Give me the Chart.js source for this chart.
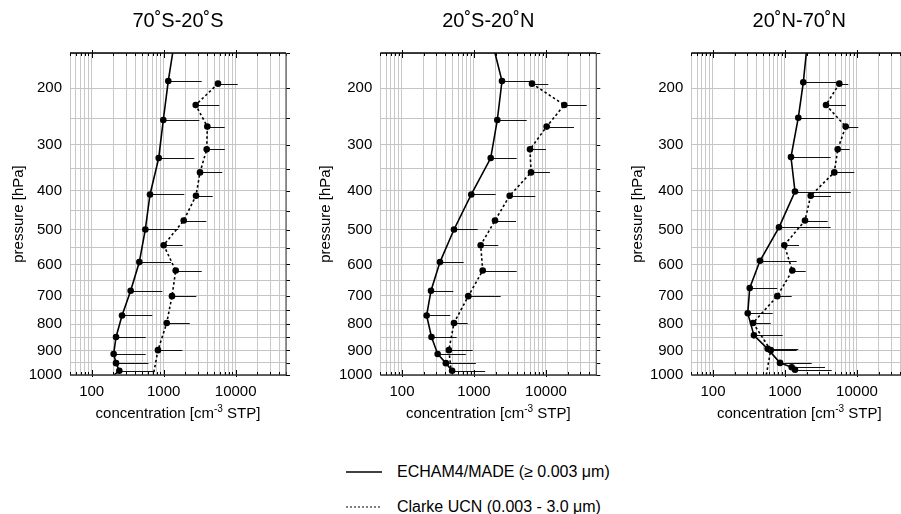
<!DOCTYPE html>
<html><head><meta charset="utf-8">
<script src="https://cdn.jsdelivr.net/npm/chart.js@4.4.1/dist/chart.umd.min.js"></script>
<style>
html,body{margin:0;padding:0;background:#fff;overflow:hidden;width:901px;height:514px;}
body{position:relative;font-family:"Liberation Sans",Arial,Helvetica,sans-serif;color:#000;}
canvas{position:absolute;top:0;}
.t{position:absolute;white-space:nowrap;transform:translate(-50%,-50%);}
.title{font-size:20px;top:20px;}
.xt{font-size:15px;top:412px;}
.xt sup{font-size:10px;vertical-align:0;position:relative;top:-6px;}
.leg{position:absolute;font-size:16px;white-space:nowrap;transform:translateY(-50%);}
svg{position:absolute;overflow:visible;}
</style></head><body>
<canvas id="c0" width="300" height="440" style="left:0px"></canvas>
<canvas id="c1" width="305" height="440" style="left:300px"></canvas>
<canvas id="c2" width="325" height="440" style="left:600px"></canvas>
<div id="overlay"></div>
<script>
// ---------------- data ----------------
const regions = ['70˚S-20˚S', '20˚S-20˚N', '20˚N-70˚N'];
const xTickLabels = [100, 1000, 10000];
const yTickLabels = [200, 300, 400, 500, 600, 700, 800, 900, 1000];
const xGridValues = [50, 60, 70, 80, 90, 100, 200, 300, 400, 500, 600, 700, 800, 900,
  1000, 2000, 3000, 4000, 5000, 6000, 7000, 8000, 9000, 10000, 20000, 30000, 40000, 50000];
const yGridValues = [150, 200, 250, 300, 350, 400, 450, 500, 550, 600, 650, 700, 750, 800, 850, 900, 950, 1000];

// ECHAM4/MADE (null error = line end without marker)
const echamP_70S20S   = [150, 189, 253, 327, 409, 499, 593, 684, 769, 848, 914, 951, 982, 1000];
const echamN_70S20S   = [1334, 1159, 988, 853, 646, 556, 459, 348, 264, 218, 202, 218, 242, 204];
const echamErr_70S20S = [null, 3375, 3126, 2663, 1934, 1597, 1264, 957, 695, 563, 563, 615, 734, null];

const echamP_20S20N   = [150, 189, 253, 327, 409, 499, 593, 684, 769, 848, 914, 951, 982];
const echamN_20S20N   = [1959, 2450, 2109, 1708, 918, 528, 337, 253, 220, 257, 313, 407, 497];
const echamErr_20S20N = [null, 6670, 5400, 3920, 2003, 1126, 720, 516, 469, 575, 770, 1062, 1430];

const echamP_20N70N   = [150, 191, 249, 325, 402, 493, 589, 675, 761, 842, 894, 950, 968, 978];
const echamN_20N70N   = [1978, 1797, 1531, 1212, 1378, 826, 450, 324, 304, 371, 575, 853, 1240, 1378];
const echamErr_20N70N = [null, 5630, 4797, 4315, 8180, 4315, 1455, 782, 675, 930, 1530, 2350, 3600, 4456];

// Clarke UCN
const clarkeP = [193, 227, 265, 309, 358, 412, 475, 543, 619, 702, 796, 899, 1013];
const clarkeN_70S20S   = [5683, 2786, 4036, 3960, 3197, 2812, 1897, 1000, 1469, 1305, 1102, 834, 705];
const clarkeErr_70S20S = [10670, 5929, 7040, 7065, 6520, 4797, 3910, 1837, 3375, 2840, 2299, 1815, null];
const clarkeN_20S20N   = [6397, 17970, 10230, 6000, 6200, 3133, 1959, 1240, 1322, 834, 528, 448, 495];
const clarkeErr_20S20N = [10770, 36800, 24500, 10000, 11370, 7110, 3836, 2178, 3920, 2350, 818, 960, null];
const clarkeN_20N70N   = [5683, 3715, 6970, 5400, 4843, 2275, 1897, 979, 1264, 782, 360, 634, 540];
const clarkeErr_20N70N = [7580, 7040, 10430, 7925, 9180, 4355, 3920, 1566, 1940, 1240, 634, 1450, null];

// ---------------- layout/styles ----------------
const FONT = "'Liberation Sans', Arial, Helvetica, sans-serif";
const PRESSURE_EXP = 0.38;
const panels = [
  {id: 'c0', left: 0,   padLeft: 6,  yW: 64,   padRight: 14,  echam: [echamP_70S20S, echamN_70S20S, echamErr_70S20S], clarke: [clarkeP, clarkeN_70S20S, clarkeErr_70S20S]},
  {id: 'c1', left: 300, padLeft: 13, yW: 67.3, padRight: 8.7, echam: [echamP_20S20N, echamN_20S20N, echamErr_20S20N], clarke: [clarkeP, clarkeN_20S20N, clarkeErr_20S20N]},
  {id: 'c2', left: 600, padLeft: 25, yW: 66.3, padRight: 17.7, echam: [echamP_20N70N, echamN_20N70N, echamErr_20N70N], clarke: [clarkeP, clarkeN_20N70N, clarkeErr_20N70N]}
];

// custom power-law pressure scale
class PowerScale extends Chart.LinearScale {
  buildTicks() { return yGridValues.map(v => ({value: v})); }
  getPixelForValue(value) {
    const a = PRESSURE_EXP, lo = Math.pow(this.min, a), hi = Math.pow(this.max, a);
    return this.getPixelForDecimal((Math.pow(value, a) - lo) / (hi - lo));
  }
  getValueForPixel(pixel) {
    const a = PRESSURE_EXP, lo = Math.pow(this.min, a), hi = Math.pow(this.max, a);
    return Math.pow(lo + this.getDecimalForPixel(pixel) * (hi - lo), 1 / a);
  }
}
PowerScale.id = 'power';
Chart.register(PowerScale);

const errorBars = {
  id: 'errorBars',
  beforeDatasetsDraw(chart) {
    const {ctx, chartArea: a, scales: {x, y}} = chart;
    ctx.save();
    ctx.beginPath(); ctx.rect(a.left, a.top, a.right - a.left, a.bottom - a.top); ctx.clip();
    ctx.strokeStyle = '#111'; ctx.lineWidth = 1;
    chart.data.datasets.forEach(ds => {
      ds.data.forEach((pt, i) => {
        const e = ds.errX[i];
        if (e == null) return;
        const py = Math.round(y.getPixelForValue(pt.y)) + 0.5;
        ctx.beginPath();
        ctx.moveTo(x.getPixelForValue(pt.x), py);
        ctx.lineTo(x.getPixelForValue(e), py);
        ctx.stroke();
      });
    });
    ctx.restore();
  }
};

const frame = {
  id: 'frame',
  afterDraw(chart) {
    const {ctx, chartArea: a, scales: {x, y}} = chart;
    ctx.save();
    ctx.strokeStyle = '#000'; ctx.lineWidth = 1;
    xGridValues.forEach(v => {
      const px = Math.round(x.getPixelForValue(v)) + 0.5;
      const dec = [100, 1000, 10000].includes(v);
      const len = dec ? 5 : 3;
      ctx.beginPath();
      ctx.moveTo(px, a.top - (dec ? 3 : 0)); ctx.lineTo(px, a.top + len);
      ctx.moveTo(px, a.bottom + (dec ? 2 : 0)); ctx.lineTo(px, a.bottom - len);
      ctx.stroke();
    });
    yGridValues.forEach(v => {
      const py = Math.round(y.getPixelForValue(v)) + 0.5;
      ctx.beginPath(); ctx.moveTo(a.right, py); ctx.lineTo(a.right + 4, py); ctx.stroke();
    });
    ctx.strokeStyle = '#555'; ctx.lineWidth = 1.2;
    ctx.beginPath(); ctx.moveTo(a.right, a.top); ctx.lineTo(a.right, a.bottom); ctx.stroke();
    ctx.strokeStyle = '#000'; ctx.lineWidth = 1.5;
    ctx.beginPath(); ctx.moveTo(a.left, a.top); ctx.lineTo(a.right, a.top); ctx.stroke();
    ctx.strokeStyle = '#333';
    ctx.beginPath(); ctx.moveTo(a.left, a.bottom); ctx.lineTo(a.right, a.bottom); ctx.stroke();
    ctx.restore();
  }
};

function series(arr, dashed) {
  const [P, N, E] = arr;
  return {
    data: P.map((p, i) => ({x: N[i], y: p})),
    errX: E,
    showLine: true,
    borderColor: '#000',
    backgroundColor: '#000',
    borderWidth: 1.6,
    borderDash: dashed ? [2.5, 2.5] : [],
    pointRadius: E.map(e => e == null ? 0 : 3.3),
    pointBorderWidth: 0,
    pointHoverRadius: 0,
    tension: 0
  };
}

const overlay = document.getElementById('overlay');
panels.forEach((pn, k) => {
  const chart = new Chart(document.getElementById(pn.id), {
    type: 'scatter',
    data: {datasets: [series(pn.echam, false), series(pn.clarke, true)]},
    options: {
      responsive: false, animation: false, devicePixelRatio: 1,
      layout: {padding: {left: pn.padLeft, right: pn.padRight, top: 53, bottom: 0}},
      plugins: {legend: {display: false}, tooltip: {enabled: false}},
      scales: {
        x: {
          type: 'logarithmic', min: 50, max: 50000, position: 'bottom',
          afterBuildTicks: s => { s.ticks = xGridValues.map(v => ({value: v})); },
          afterFit: s => { s.height = 65; },
          grid: {color: '#c8c8c8', lineWidth: 1, drawTicks: false},
          border: {display: false},
          ticks: {autoSkip: false, maxRotation: 0, minRotation: 0, padding: 8, color: '#000',
            font: {family: FONT, size: 15},
            callback: v => xTickLabels.includes(v) ? String(v) : ''}
        },
        y: {
          type: 'power', min: 150, max: 1000, reverse: true, position: 'left',
          afterFit: s => { s.width = pn.yW; },
          grid: {color: '#c4c4c4', lineWidth: 1, drawTicks: false},
          border: {display: false},
          title: {display: true, text: 'pressure [hPa]', color: '#000', font: {family: FONT, size: 15}, padding: {top: 4, bottom: 4}},
          ticks: {autoSkip: false, padding: 8, color: '#000', font: {family: FONT, size: 15},
            callback: v => yTickLabels.includes(v) ? String(v) : ''}
        }
      }
    },
    plugins: [errorBars, frame]
  });
  const a = chart.chartArea;
  const cx = pn.left + (a.left + a.right) / 2;
  const t = document.createElement('div');
  t.className = 't title'; t.style.left = cx + 'px'; t.textContent = regions[k];
  overlay.appendChild(t);
  const xt = document.createElement('div');
  xt.className = 't xt'; xt.style.left = cx + 'px';
  xt.innerHTML = 'concentration [cm<sup>-3</sup> STP]';
  overlay.appendChild(xt);
});

// legend
const legendItems = [
  {label: 'ECHAM4/MADE (≥ 0.003 μm)', dash: null, y: 472},
  {label: 'Clarke UCN (0.003 - 3.0 μm)', dash: '2,2', y: 507}
];
legendItems.forEach(it => {
  const svgNS = 'http://www.w3.org/2000/svg';
  const s = document.createElementNS(svgNS, 'svg');
  s.setAttribute('width', '36'); s.setAttribute('height', '4');
  s.style.left = '346px'; s.style.top = (it.y - 2) + 'px';
  const l = document.createElementNS(svgNS, 'line');
  l.setAttribute('x1', '0'); l.setAttribute('x2', '36'); l.setAttribute('y1', '2'); l.setAttribute('y2', '2');
  l.setAttribute('stroke', '#000'); l.setAttribute('stroke-width', it.dash ? '1.2' : '1.5');
  if (it.dash) l.setAttribute('stroke-dasharray', it.dash);
  s.appendChild(l);
  overlay.appendChild(s);
  const d = document.createElement('div');
  d.className = 'leg'; d.style.left = '397px'; d.style.top = it.y + 'px';
  d.textContent = it.label;
  overlay.appendChild(d);
});
</script>
</body></html>
